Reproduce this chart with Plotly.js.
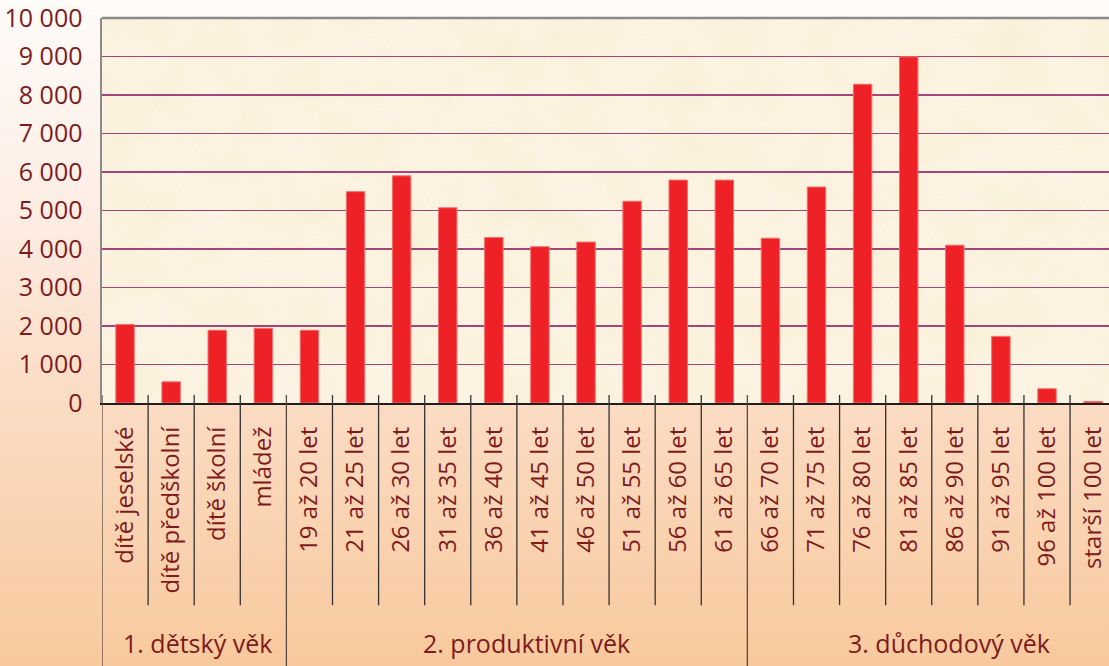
<!DOCTYPE html>
<html>
<head>
<meta charset="utf-8">
<script src="https://cdn.plot.ly/plotly-3.0.1.min.js"></script>
<style>
  html, body { margin:0; padding:0; width:1109px; height:666px; overflow:hidden;
    background: linear-gradient(to bottom, #fffbf8 0%, #fdeee6 30%, #fbdcc4 60%, #f8c99d 100%); }
  #chart { width:1109px; height:666px; }
  .xtick text { font-stretch: 95%; }
  .ytick text { font-stretch: 90%; }
</style>
</head>
<body>
<div id="chart"></div>
<script>
const categories = ["dítě jeselské","dítě předškolní","dítě školní","mládež","19 až 20 let","21 až 25 let","26 až 30 let","31 až 35 let","36 až 40 let","41 až 45 let","46 až 50 let","51 až 55 let","56 až 60 let","61 až 65 let","66 až 70 let","71 až 75 let","76 až 80 let","81 až 85 let","86 až 90 let","91 až 95 let","96 až 100 let","starší 100 let"];
const values = [2040, 550, 1890, 1940, 1890, 5490, 5900, 5070, 4300, 4060, 4180, 5240, 5790, 5790, 4280, 5610, 8280, 8990, 4100, 1730, 370, 40];
const groupLabels = ["1. dětský věk", "2. produktivní věk", "3. důchodový věk"];
const groupStarts = [0, 4, 14];   // first category index of each group
const yTicks = [0,1000,2000,3000,4000,5000,6000,7000,8000,9000,10000];

const labelColor = "#7f1a1c";
const idx = categories.map((c, i) => i);

const shapes = [];
for (let i = 0; i < categories.length; i++) {
  const isGroup = groupStarts.includes(i);
  shapes.push({type:"line", xref:"x", yref:"paper", x0:i-0.5, x1:i-0.5,
    y0:0.021, y1: isGroup ? -0.70 : -0.525,
    line:{color: isGroup ? "#5a4a40" : "#333333", width:1.3}});
}
shapes.push({type:"line", xref:"paper", yref:"paper", x0:0, x1:1, y0:1, y1:1,
  line:{color:"#8a8a8a", width:2.5}});

const groupX = [1.57, 8.7, 17.87];
const annotations = groupLabels.map((g, k) => ({
  text: g, xref:"x", yref:"paper", x: groupX[k], y: -0.623,
  xanchor:"center", yanchor:"middle", showarrow:false,
  font:{family:"Open Sans", size:25, color:labelColor, weight:500}
}));

const texture = "data:image/svg+xml;utf8," + encodeURIComponent(
  "<svg xmlns='http://www.w3.org/2000/svg' width='1007' height='385'>" +
  "<filter id='f' x='0' y='0' width='100%' height='100%'><feTurbulence type='fractalNoise' baseFrequency='0.018' numOctaves='3' seed='7'/>" +
  "<feColorMatrix values='0 0 0 0 0.92  0 0 0 0 0.84  0 0 0 0 0.6  1.3 0 0 0 -0.45'/></filter>" +
  "<rect width='100%' height='100%' fill='#fcf3e2'/>" +
  "<rect width='100%' height='100%' filter='url(#f)' opacity='0.6'/></svg>");

const trace = {
  type:"bar", x: idx, y: values,
  marker:{color:"#ee2226", line:{color:"#f37070", width:1}},
  width: 0.4, hoverinfo:"skip"
};

const layout = {
  width:1109, height:666,
  margin:{l:102, r:0, t:18, b:263, pad:0},
  paper_bgcolor:"rgba(0,0,0,0)",
  plot_bgcolor:"#faefd9",
  separators:", ",
  showlegend:false,
  images:[{source:texture, xref:"paper", yref:"paper", x:0, y:1, sizex:1, sizey:1,
    xanchor:"left", yanchor:"top", sizing:"stretch", layer:"below"}],
  xaxis:{
    range:[-0.5, 21.345], tickmode:"array", tickvals: idx, ticktext: categories,
    tickangle:-90, ticks:"outside", ticklen:12, tickcolor:"rgba(0,0,0,0)",
    tickfont:{family:"Open Sans", size:24, color:labelColor, weight:500},
    ticklabeloverflow:"allow",
    showgrid:false, zeroline:false, showline:true, linecolor:"#1e1e1e", linewidth:2
  },
  yaxis:{
    range:[0, 10000], tickmode:"array", tickvals:yTicks, tickformat:",d",
    ticks:"outside", ticklen:12, tickcolor:"rgba(0,0,0,0)",
    tickfont:{family:"Open Sans", size:25, color:labelColor, weight:500},
    ticklabeloverflow:"allow",
    showgrid:true, gridcolor:"#a2457a", gridwidth:1.2,
    zeroline:false, showline:true, linecolor:"#8a8a8a", linewidth:2.5
  },
  shapes: shapes,
  annotations: annotations
};

Plotly.newPlot("chart", [trace], layout, {staticPlot:true, displayModeBar:false});
</script>
</body>
</html>
